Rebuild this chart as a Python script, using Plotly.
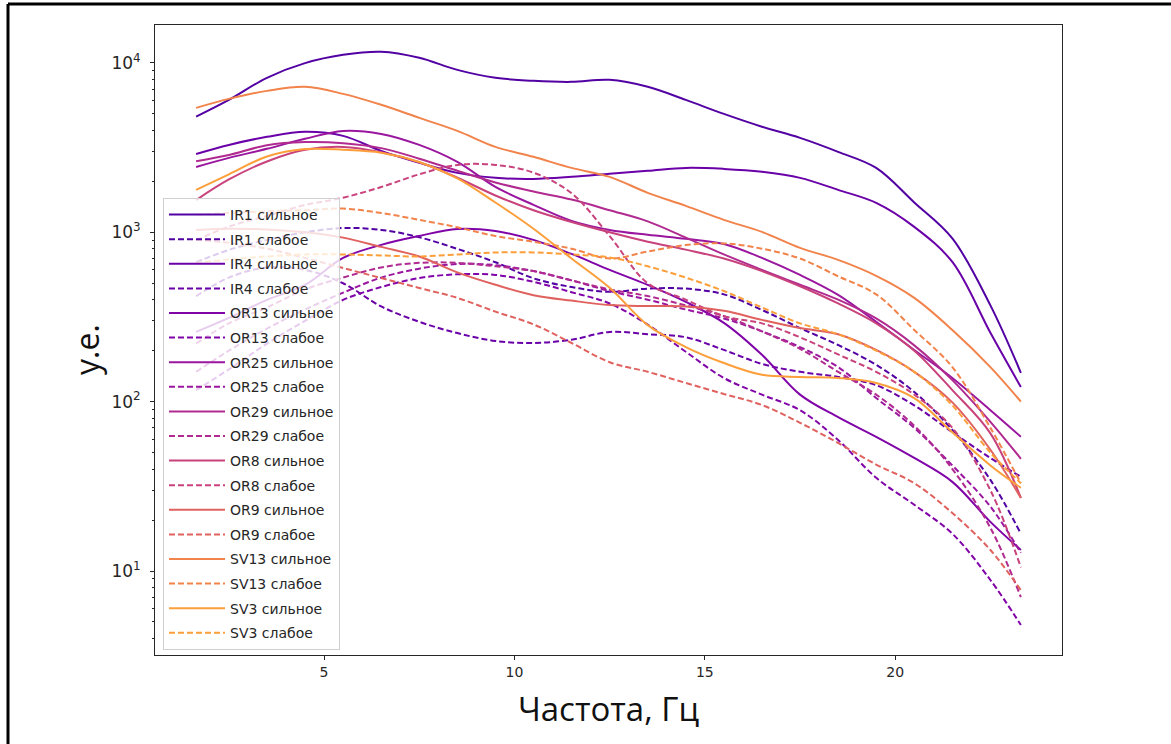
import plotly.graph_objects as go

# Frequency grid (Hz)
freq = [1.64, 2.5, 3.5, 4.5, 5.5, 6.5, 7.5, 8.5, 9.5, 10.5, 11.5, 12.5,
        13.5, 14.5, 15.5, 16.5, 17.5, 18.5, 19.5, 20.5, 21.5, 22.5, 23.3]

names = ["IR1", "IR4", "OR13", "OR25", "OR29", "OR8", "OR9", "SV13", "SV3"]
colors = ["#5202a3", "#6a00a8", "#8004a8", "#9a169f", "#b02a90", "#c8437c",
          "#e0625f", "#f1834b", "#fc9f3a"]

# strong (сильное)
IR1_s = [4820, 6050, 8170, 9970, 11160, 11640, 10720, 9100, 8170, 7840, 7730, 7950,
         7230, 6050, 5000, 4200, 3610, 2985, 2400, 1500, 920, 370, 148]
IR4_s = [2900, 3280, 3660, 3920, 3710, 3025, 2570, 2243, 2096, 2067, 2125, 2213,
         2306, 2400, 2368, 2275, 2096, 1780, 1492, 1076, 668, 255, 122]
OR13_s = [258, 312, 399, 489, 706, 843, 952, 1047, 1018, 902, 745, 600,
          489, 388, 292, 189, 110, 81, 62, 46.5, 33.6, 19.5, 13.3]
OR25_s = [2430, 2750, 3110, 3565, 3970, 3810, 3280, 2605, 1855, 1452, 1168, 1033,
          966, 915, 853, 706, 560, 427, 296, 202, 138, 89, 62]
OR29_s = [2630, 2860, 3270, 3410, 3360, 3140, 2720, 2310, 1970, 1740, 1560, 1350,
          1160, 930, 740, 600, 490, 400, 310, 215, 134, 76, 46]
OR8_s = [1550, 2050, 2620, 3070, 3190, 2970, 2590, 2100, 1650, 1350, 1150, 1000,
         880, 790, 700, 590, 480, 380, 290, 200, 117, 65, 27]
OR9_s = [1033, 1050, 1040, 1000, 930, 820, 720, 580, 490, 425, 395, 372,
         367, 365, 344, 304, 272, 250, 202, 150, 99, 52, 27]
SV13_s = [5430, 6135, 6840, 7230, 6565, 5660, 4740, 3970, 3193, 2790, 2400, 2125,
          1710, 1432, 1184, 1005, 809, 687, 553, 410, 265, 160, 100]
SV3_s = [1780, 2200, 2800, 3100, 3070, 2950, 2600, 2080, 1500, 1050, 700, 470,
         283, 210, 169, 144, 140, 138, 129, 105, 66, 42, 31]

# weak (слабое)
IR1_w = [665, 787, 902, 1000, 1060, 1033, 935, 798, 665, 535, 475, 445,
         465, 465, 430, 348, 272, 216, 165, 114, 68, 34.5, 16.6]
IR4_w = [420, 540, 620, 600, 500, 365, 296, 254, 228, 222, 232, 258,
         250, 240, 202, 167, 150, 140, 125, 95, 66, 46.5, 36]
OR13_w = [117, 155, 220, 300, 399, 475, 537, 565, 560, 510, 443, 380,
          285, 197, 138, 110, 89, 59.4, 35.5, 24.6, 16.6, 8.85, 4.8]
OR25_w = [150, 200, 270, 350, 440, 540, 610, 650, 640, 590, 520, 450,
          400, 350, 310, 260, 210, 160, 105, 70, 42, 24, 12.8]
OR29_w = [220, 290, 360, 460, 540, 620, 660, 660, 630, 590, 520, 460,
          420, 370, 320, 260, 205, 150, 110, 72, 40, 18, 7.0]
OR8_w = [900, 1080, 1250, 1450, 1600, 1850, 2200, 2500, 2500, 2250, 1700, 950,
         500, 400, 320, 290, 240, 190, 150, 110, 70, 30, 10.5]
OR9_w = [902, 866, 800, 706, 615, 537, 469, 410, 340, 286, 222, 171,
         150, 129, 111, 95.5, 75, 57, 42.5, 33, 22, 13.3, 7.7]
SV13_w = [1270, 1300, 1330, 1350, 1380, 1300, 1184, 1070, 950, 880, 800, 700,
          770, 840, 860, 800, 700, 550, 430, 265, 160, 70, 33]
SV3_w = [660, 690, 720, 740, 740, 730, 720, 740, 760, 760, 740, 710,
         630, 540, 450, 360, 290, 250, 200, 150, 95, 50, 33]

strong = [IR1_s, IR4_s, OR13_s, OR25_s, OR29_s, OR8_s, OR9_s, SV13_s, SV3_s]
weak = [IR1_w, IR4_w, OR13_w, OR25_w, OR29_w, OR8_w, OR9_w, SV13_w, SV3_w]

fig = go.Figure()
for nm, col, s, w in zip(names, colors, strong, weak):
    fig.add_trace(go.Scatter(x=freq, y=s, mode="lines", name=f"{nm} сильное",
                             line=dict(color=col, width=2, shape="spline", smoothing=1.0),
                             legendgroup=nm + "s"))
    fig.add_trace(go.Scatter(x=freq, y=w, mode="lines", name=f"{nm} слабое",
                             line=dict(color=col, width=2, dash="6px,3px", shape="spline", smoothing=1.0),
                             legendgroup=nm + "w"))

L, R, T, B = 155, 109, 25, 89
W, H = 1171, 744
pw, ph = W - L - R, H - T - B

major = [10, 100, 1000, 10000]
minor_vals = [m * 10 ** k for k in range(0, 5) for m in range(2, 10)]
minor_vals = [v for v in minor_vals if 3.2 < v < 16700]

fig.update_layout(
    width=W, height=H,
    margin=dict(l=L, r=R, t=T, b=B, autoexpand=False),
    paper_bgcolor="white", plot_bgcolor="white",
    font=dict(family="DejaVu Sans", size=14, color="#262626"),
    showlegend=True,
    legend=dict(x=(163 - L) / pw, y=1 - (198 - T) / ph, xanchor="left", yanchor="top",
                bgcolor="rgba(255,255,255,0.8)", bordercolor="#d0d0d0", borderwidth=1,
                font=dict(family="DejaVu Sans", size=14, color="#262626"),
                tracegroupgap=3.4, traceorder="grouped", itemwidth=56),
    xaxis=dict(range=[0.56, 24.38], tickvals=[5, 10, 15, 20], ticks="outside", ticklen=4,
               tickcolor="#262626", showgrid=False, zeroline=False, showline=True,
               linecolor="#262626", linewidth=1, mirror=True,
               tickfont=dict(size=14),
               title=dict(text="Частота, Гц", font=dict(family="Open Sans", size=33, color="#111"),
                          standoff=19)),
    yaxis=dict(type="log", range=[0.504, 4.224], tickvals=major,
               ticktext=["10<sup>1</sup>", "10<sup>2</sup>", "10<sup>3</sup>", "10<sup>4</sup>"],
               ticks="outside", ticklen=4, tickcolor="#262626", showgrid=False, zeroline=False,
               showline=True, linecolor="#262626", linewidth=1, mirror=True,
               tickfont=dict(size=17), ticklabelstandoff=6,
               minor=dict(tickvals=minor_vals, ticks="outside", ticklen=2, tickcolor="#262626")),
)

# y-axis title placed as annotation
fig.add_annotation(text="у.е.", xref="paper", yref="paper",
                   x=(86 - L) / pw, y=1 - (350 - T) / ph, xanchor="center", yanchor="middle",
                   textangle=-90, showarrow=False,
                   font=dict(family="Open Sans", size=32, color="#111"))

# outer black frame (top and left edges)
fx0 = (8 - L) / pw
fy1 = 1 + (T - 4) / ph
fx1 = (W - L) / pw
fy0 = -(H - T - ph) / ph - 0.01
fig.add_shape(type="line", xref="paper", yref="paper", x0=fx0, x1=fx1, y0=fy1, y1=fy1,
              line=dict(color="black", width=3))
fig.add_shape(type="line", xref="paper", yref="paper", x0=fx0, x1=fx0, y0=fy0, y1=fy1,
              line=dict(color="black", width=3))

fig.write_html("out.html", config={"displayModeBar": False},
               post_script="document.body.style.margin='0px';")
